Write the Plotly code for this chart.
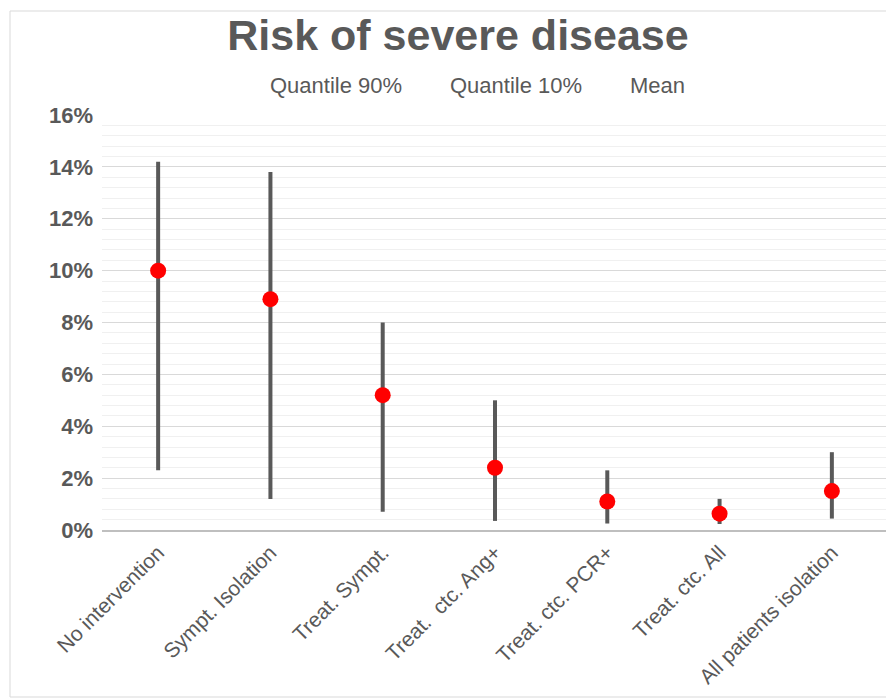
import plotly.graph_objects as go

categories = ["No intervention", "Sympt. Isolation", "Treat. Sympt.", "Treat.  ctc. Ang+",
              "Treat. ctc. PCR+", "Treat. ctc. All", "All patients isolation"]
quantile_90 = [0.142, 0.138, 0.080, 0.050, 0.023, 0.012, 0.030]
quantile_10 = [0.023, 0.012, 0.007, 0.0035, 0.0025, 0.0023, 0.0044]
mean_vals = [0.100, 0.089, 0.052, 0.024, 0.011, 0.0063, 0.015]

TXT = "#595959"
FONT = "Arial, Liberation Sans, sans-serif"

fig = go.Figure()
fig.add_trace(go.Scatter(
    x=categories, y=mean_vals, mode="markers", name="Mean",
    marker=dict(color="#ff0000", size=16),
    error_y=dict(type="data", symmetric=False,
                 array=[h - m for h, m in zip(quantile_90, mean_vals)],
                 arrayminus=[m - l for m, l in zip(mean_vals, quantile_10)],
                 color="#595959", thickness=4, width=0),
    showlegend=False,
))

# page body has an 8px margin; compensate
OFF = 8
W, H = 894 - OFF, 698 - OFF
L, R, T, B = 102 - OFF, 6, 115 - OFF, 168
pw, ph = W - L - R, H - T - B

def px(x):
    return (x - OFF - L) / pw

def py(y):
    return (H - B - (y - OFF)) / ph

legend_items = [("Quantile 90%", 268), ("Quantile 10%", 448), ("Mean", 628)]
annotations = [dict(text=t, x=px(x0), y=py(85), xref="paper", yref="paper",
                    xanchor="left", yanchor="middle", showarrow=False,
                    font=dict(family=FONT, size=22, color=TXT))
               for t, x0 in legend_items]

fig.update_layout(
    width=W, height=H,
    margin=dict(l=L, r=R, t=T, b=B),
    paper_bgcolor="white", plot_bgcolor="white",
    title=dict(text="<b>Risk of severe disease</b>", x=(458 - OFF) / W, xanchor="center",
               y=1 - (35 - OFF) / H, yanchor="middle",
               font=dict(family=FONT, size=43, color=TXT)),
    annotations=annotations,
    shapes=[dict(type="rect", xref="paper", yref="paper",
                 x0=px(10), x1=px(893), y0=py(697), y1=py(11),
                 line=dict(color="#d9d9d9", width=1), layer="below")],
    xaxis=dict(type="category", range=[-0.5, len(categories) - 0.5],
               tickangle=-45, showgrid=False,
               showline=True, linecolor="#bfbfbf", linewidth=2,
               ticks="", tickfont=dict(family=FONT, size=21, color=TXT)),
    yaxis=dict(range=[0, 0.16], dtick=0.02, tickformat=".0%",
               showgrid=True, gridcolor="#d9d9d9", gridwidth=1,
               zeroline=False, showline=False, ticks="",
               minor=dict(dtick=0.004, showgrid=True, gridcolor="#f0f0f0", gridwidth=1),
               tickfont=dict(family=FONT, size=22, color=TXT),
               ticklabelstandoff=8),
)
fig.update_yaxes(tickprefix="<b>", ticksuffix="</b>")

fig.write_html("out.html")
